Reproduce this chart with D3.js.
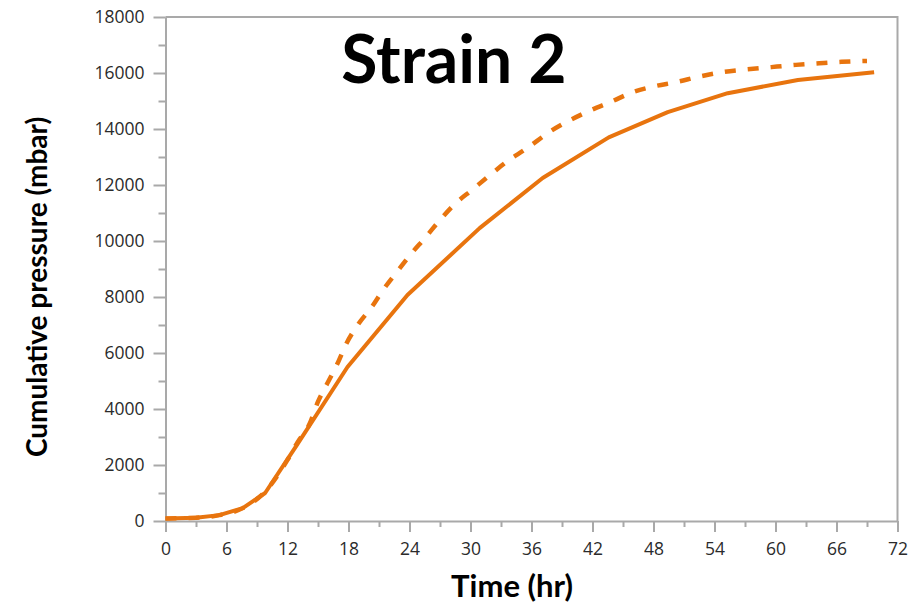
<!DOCTYPE html>
<html>
<head>
<meta charset="utf-8">
<script src="https://cdn.jsdelivr.net/npm/d3@7"></script>
<style>
  body { margin: 0; background: #fff; }
  svg { display: block; }
</style>
</head>
<body>
<div id="chart"></div>
<script>
// ---------- data ----------
var solidHours = [0, 3, 5.3, 7.6, 9.8, 12.9, 17.9, 23.8, 30.9, 37.1, 43.6, 49.4, 55.3, 62.2, 69.7];
var solidPressure = [90, 120, 210, 460, 1000, 2700, 5500, 8070, 10460, 12250, 13700, 14600, 15280, 15750, 16030];

var dashedHours = [0, 3, 5.3, 7.6, 9.8, 12, 13, 14.2, 15, 16, 17, 17.8, 18.9, 20.3, 21.4, 22.9, 24.2, 25.5, 27, 28.4, 30.2, 32.1, 33.7, 35.3, 38, 41.4, 44, 46, 48, 50.3, 52.5, 54.8, 57, 59.6, 62, 64.3, 66.5, 69];
var dashedPressure = [90, 120, 210, 460, 1050, 2180, 2820, 3490, 4260, 4970, 5690, 6340, 7000, 7650, 8250, 8960, 9560, 10100, 10750, 11300, 11840, 12410, 12870, 13250, 13950, 14600, 15000, 15320, 15520, 15680, 15870, 16030, 16120, 16210, 16290, 16350, 16400, 16430];

var xTicks = [0, 6, 12, 18, 24, 30, 36, 42, 48, 54, 60, 66, 72];
var xMinorTicks = [3, 9, 15, 21, 27, 33, 39, 45, 51, 57, 63, 69];
var yTicks = [0, 2000, 4000, 6000, 8000, 10000, 12000, 14000, 16000, 18000];
var yMinorTicks = [1000, 3000, 5000, 7000, 9000, 11000, 13000, 15000, 17000];

var titleText = "Strain 2";
var xTitle = "Time (hr)";
var yTitle = "Cumulative pressure (mbar)";

// ---------- setup ----------
var svgWidth = 915;
var svgHeight = 604;
var lineColor = "#e8740e";
var axisColor = "#a9a9a9";

var svg = d3.select("#chart").append("svg")
  .attr("width", svgWidth)
  .attr("height", svgHeight);

var xScale = d3.scaleLinear().domain([0, 72]).range([165.5, 897.5]);
var yScale = d3.scaleLinear().domain([0, 18000]).range([521, 17]);

// ---------- axes ----------
function styleAxis(g) {
  g.selectAll("path.domain").attr("stroke", axisColor).attr("stroke-width", 2);
  g.selectAll(".tick line").attr("stroke", axisColor).attr("stroke-width", 2);
  g.selectAll(".tick text")
    .attr("fill", "#2b2b2b")
    .attr("font-family", "'Open Sans', 'DejaVu Sans', sans-serif")
    .attr("font-size", "17.5px");
}

svg.append("g")
  .attr("transform", `translate(0, ${yScale(0)})`)
  .call(d3.axisBottom(xScale).tickValues(xMinorTicks).tickSize(6).tickFormat(""))
  .call(styleAxis)
  .select("path.domain").remove();

svg.append("g")
  .attr("transform", `translate(0, ${yScale(0)})`)
  .call(d3.axisBottom(xScale).tickValues(xTicks).tickSize(11).tickSizeOuter(0).tickPadding(11).tickFormat(d3.format("d")))
  .call(styleAxis);

svg.append("g")
  .attr("transform", `translate(${xScale(0)}, 0)`)
  .call(d3.axisLeft(yScale).tickValues(yMinorTicks).tickSize(7).tickFormat(""))
  .call(styleAxis)
  .select("path.domain").remove();

svg.append("g")
  .attr("transform", `translate(${xScale(0)}, 0)`)
  .call(d3.axisLeft(yScale).tickValues(yTicks).tickSize(12).tickSizeOuter(0).tickPadding(9).tickFormat(d3.format("d")))
  .call(styleAxis);

// frame top + right
svg.append("path")
  .attr("d", `M${xScale(0)},${yScale(18000)}H${xScale(72)}V${yScale(0)}`)
  .attr("fill", "none")
  .attr("stroke", axisColor)
  .attr("stroke-width", 2);

// ---------- lines ----------
var solidData = solidHours.map((h, i) => ({x: h, y: solidPressure[i]}));
var dashedData = dashedHours.map((h, i) => ({x: h, y: dashedPressure[i]}));

var line = d3.line().x(d => xScale(d.x)).y(d => yScale(d.y));
var smooth = d3.line().curve(d3.curveMonotoneX).x(d => xScale(d.x)).y(d => yScale(d.y));

svg.append("path")
  .datum(dashedData)
  .attr("d", smooth)
  .attr("fill", "none")
  .attr("stroke", lineColor)
  .attr("stroke-width", 4.5)
  .attr("stroke-dasharray", "11,12");

svg.append("path")
  .datum(solidData)
  .attr("d", line)
  .attr("fill", "none")
  .attr("stroke", lineColor)
  .attr("stroke-width", 4)
  .attr("stroke-linejoin", "round");

// ---------- titles ----------
svg.append("text")
  .attr("x", 454)
  .attr("y", 83)
  .attr("text-anchor", "middle")
  .attr("font-family", "Lato, 'Open Sans', sans-serif")
  .attr("font-weight", "bold")
  .attr("font-size", "66px")
  .attr("fill", "#000")
  .text(titleText);

svg.append("text")
  .attr("x", 512)
  .attr("y", 597)
  .attr("text-anchor", "middle")
  .attr("font-family", "Lato, 'Open Sans', sans-serif")
  .attr("font-weight", "bold")
  .attr("font-size", "31px")
  .attr("fill", "#000")
  .text(xTitle);

svg.append("text")
  .attr("transform", "translate(47, 287) rotate(-90)")
  .attr("text-anchor", "middle")
  .attr("font-family", "Lato, 'Open Sans', sans-serif")
  .attr("font-weight", "bold")
  .attr("font-size", "28px")
  .attr("fill", "#000")
  .text(yTitle);
</script>
</body>
</html>
